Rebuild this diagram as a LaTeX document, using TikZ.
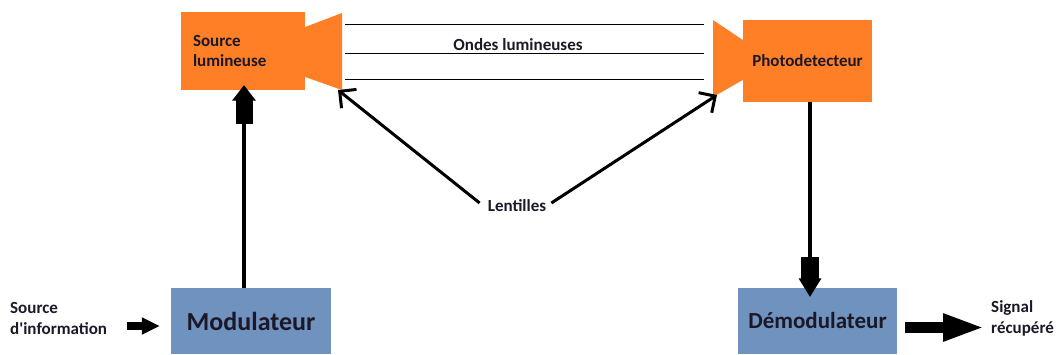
\documentclass[tikz,border=0pt]{standalone}
\usepackage{fontspec}
\setmainfont{Carlito}
\usetikzlibrary{arrows.meta,calc}
\definecolor{paintorange}{RGB}{255,127,39}
\definecolor{paintblue}{RGB}{112,146,190}
\definecolor{txt}{RGB}{28,24,40}
\begin{document}
\begin{tikzpicture}[x=1pt,y=-1pt,
  every node/.style={text=txt,font=\bfseries\fontsize{17}{21}\selectfont},
  obox/.style={fill=paintorange,draw=none,inner sep=0pt},
  bbox/.style={fill=paintblue,draw=none,inner sep=0pt},
  horn/.style={fill=paintorange,draw=none},
  wave/.style={draw=black,line width=1pt},
  lens/.style={draw=black,line width=3pt,-{Straight Barb[length=12pt,width=24pt,line width=3pt]}},
  shaft/.style={draw=black,line width=4pt},
  head/.style={fill=black,draw=none},
  lbl/.style={align=left,inner sep=0pt,anchor=west}]
\useasboundingbox (0,0) rectangle (1060,354);
% boxes
\node[obox,minimum width=124pt,minimum height=78pt,text width=100pt,align=left] (src) at (243,51) {Source\\[-1pt]lumineuse};
\node[obox,minimum width=129pt,minimum height=82pt] (pd) at (807.5,61) {Photodetecteur};
\node[bbox,minimum width=160pt,minimum height=66pt,font=\bfseries\fontsize{26}{30}\selectfont] (mod) at (251,321) {Modulateur};
\node[bbox,minimum width=159pt,minimum height=66pt,font=\bfseries\fontsize{23}{27}\selectfont] (demod) at (817.5,321) {Démodulateur};
% horns
\path[horn] (src.east |- 0,27) -- (342,13) -- (342,90) -- (src.east |- 0,77) -- cycle;
\path[horn] (pd.west |- 0,40) -- (713,20) -- (713,97) -- (pd.west |- 0,80) -- cycle;
% light waves
\coordinate (w1a) at (345,24); \coordinate (w1b) at (704,24);
\coordinate (w2a) at (345,53); \coordinate (w2b) at (704,53);
\coordinate (w3a) at (345,79); \coordinate (w3b) at (704,79);
\draw[wave] (w1a) -- (w1b);
\draw[wave] (w2a) -- (w2b);
\draw[wave] (w3a) -- (w3b);
\node (ondes) at (518,45) {Ondes lumineuses};
% lenses
\node[inner sep=2pt] (lent) at (517,206) {Lentilles};
\coordinate (lt1) at (338,90);
\coordinate (lt2) at (717,95);
\draw[lens] ($(lent.west)+(-6,-3)$) -- (lt1);
\draw[lens] ($(lent.east)+(3,-3)$) -- (lt2);
% side labels
\node[lbl] (info) at (10,318) {Source\\d\textquotesingle information};
\node[lbl] (sig) at (991,318) {Signal\\récupéré};
% modulator -> source
\coordinate (m1) at (mod.north -| 244,0);
\coordinate (m2) at (244,124);
\coordinate (m3) at (244,100);
\coordinate (mt) at ($(src.south -| m2)+(0,-5)$);
\draw[shaft] (m1) -- (m2);
\draw[draw=black,line width=17pt] (m2) -- (m3);
\fill[head] (mt) -- ++(12,15.5) -- ++(-24,0) -- cycle;
% photodetector -> demodulator
\coordinate (p1) at (pd.south -| 810,0);
\coordinate (p2) at (810,257);
\coordinate (p3) at (810,279);
\coordinate (pt) at ($(demod.north -| p2)+(0,9)$);
\draw[shaft] (p1) -- (p2);
\draw[draw=black,line width=18pt] (p2) -- (p3);
\fill[head] (pt) -- ++(11.5,-18.5) -- ++(-23,0) -- cycle;
% input arrow
\coordinate (a1) at (127,326);
\draw[draw=black,line width=8pt,-{Triangle[length=18pt,width=16pt]}] (a1) -- ($(mod.west |- a1)+(-11,0)$);
% output arrow
\coordinate (b1) at (905,327.5);
\draw[draw=black,line width=11pt,-{Triangle[length=42pt,width=25pt]}] (b1) -- ($(sig.west |- b1)+(-6,0)$);
\end{tikzpicture}
\end{document}
